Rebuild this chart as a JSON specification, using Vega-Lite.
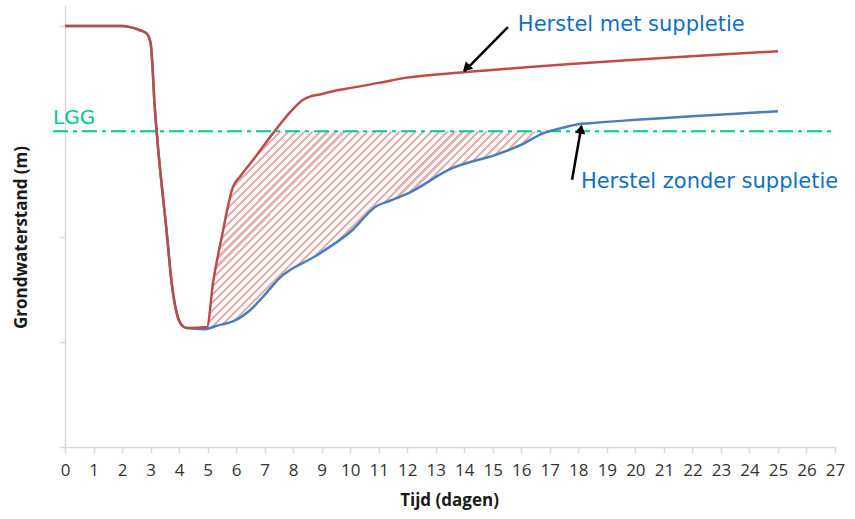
{
  "$schema": "https://vega.github.io/schema/vega-lite/v6.json",
  "autosize": "none",
  "width": 770,
  "height": 442,
  "padding": {"left": 65, "top": 5, "right": 20, "bottom": 72},
  "background": "white",
  "config": {"view": {"stroke": null}, "font": "Open Sans"},
  "datasets": {
    "curves": [
      {"day": 0, "level": 4.0, "series": "met"},
      {"day": 1, "level": 4.0, "series": "met"},
      {"day": 2, "level": 4.0, "series": "met"},
      {"day": 2.28, "level": 3.99, "series": "met"},
      {"day": 2.63, "level": 3.96, "series": "met"},
      {"day": 2.86, "level": 3.93, "series": "met"},
      {"day": 3.0, "level": 3.84, "series": "met"},
      {"day": 3.07, "level": 3.61, "series": "met"},
      {"day": 3.13, "level": 3.30, "series": "met"},
      {"day": 3.22, "level": 2.98, "series": "met"},
      {"day": 3.57, "level": 2.03, "series": "met"},
      {"day": 3.74, "level": 1.56, "series": "met"},
      {"day": 3.92, "level": 1.27, "series": "met"},
      {"day": 4.09, "level": 1.16, "series": "met"},
      {"day": 4.27, "level": 1.13, "series": "met"},
      {"day": 4.98, "level": 1.14, "series": "met"},
      {"day": 5.19, "level": 1.56, "series": "met"},
      {"day": 5.5, "level": 2.0, "series": "met"},
      {"day": 5.89, "level": 2.47, "series": "met"},
      {"day": 6.14, "level": 2.57, "series": "met"},
      {"day": 6.66, "level": 2.75, "series": "met"},
      {"day": 7.29, "level": 2.98, "series": "met"},
      {"day": 7.89, "level": 3.18, "series": "met"},
      {"day": 8.35, "level": 3.30, "series": "met"},
      {"day": 8.59, "level": 3.33, "series": "met"},
      {"day": 8.94, "level": 3.35, "series": "met"},
      {"day": 9.54, "level": 3.39, "series": "met"},
      {"day": 9.99, "level": 3.41, "series": "met"},
      {"day": 11, "level": 3.46, "series": "met"},
      {"day": 11.99, "level": 3.51, "series": "met"},
      {"day": 13.99, "level": 3.56, "series": "met"},
      {"day": 25, "level": 3.76, "series": "met"},
      {"day": 0, "level": 4.0, "series": "zonder"},
      {"day": 1, "level": 4.0, "series": "zonder"},
      {"day": 2, "level": 4.0, "series": "zonder"},
      {"day": 2.28, "level": 3.99, "series": "zonder"},
      {"day": 2.63, "level": 3.96, "series": "zonder"},
      {"day": 2.86, "level": 3.93, "series": "zonder"},
      {"day": 3.0, "level": 3.84, "series": "zonder"},
      {"day": 3.07, "level": 3.61, "series": "zonder"},
      {"day": 3.13, "level": 3.30, "series": "zonder"},
      {"day": 3.22, "level": 2.98, "series": "zonder"},
      {"day": 3.57, "level": 2.03, "series": "zonder"},
      {"day": 3.74, "level": 1.56, "series": "zonder"},
      {"day": 3.92, "level": 1.27, "series": "zonder"},
      {"day": 4.09, "level": 1.16, "series": "zonder"},
      {"day": 4.27, "level": 1.13, "series": "zonder"},
      {"day": 4.91, "level": 1.12, "series": "zonder"},
      {"day": 5.3, "level": 1.15, "series": "zonder"},
      {"day": 6.02, "level": 1.21, "series": "zonder"},
      {"day": 6.49, "level": 1.30, "series": "zonder"},
      {"day": 6.95, "level": 1.43, "series": "zonder"},
      {"day": 7.54, "level": 1.61, "series": "zonder"},
      {"day": 8.82, "level": 1.82, "series": "zonder"},
      {"day": 9.99, "level": 2.04, "series": "zonder"},
      {"day": 10.93, "level": 2.29, "series": "zonder"},
      {"day": 11.4, "level": 2.34, "series": "zonder"},
      {"day": 12.1, "level": 2.42, "series": "zonder"},
      {"day": 13.5, "level": 2.64, "series": "zonder"},
      {"day": 15.25, "level": 2.79, "series": "zonder"},
      {"day": 15.99, "level": 2.87, "series": "zonder"},
      {"day": 16.76, "level": 2.98, "series": "zonder"},
      {"day": 17.4, "level": 3.03, "series": "zonder"},
      {"day": 18.06, "level": 3.07, "series": "zonder"},
      {"day": 18.3, "level": 3.075, "series": "zonder"},
      {"day": 25, "level": 3.19, "series": "zonder"}
    ],
    "zone": [
      {"day": 5.0, "lo": 1.12, "level": 1.14},
      {"day": 5.19, "lo": 1.14, "level": 1.56},
      {"day": 5.5, "lo": 1.16, "level": 2.0},
      {"day": 5.89, "lo": 1.19, "level": 2.47},
      {"day": 6.14, "lo": 1.22, "level": 2.57},
      {"day": 6.49, "lo": 1.30, "level": 2.69},
      {"day": 6.95, "lo": 1.43, "level": 2.86},
      {"day": 7.29, "lo": 1.55, "level": 2.98},
      {"day": 7.54, "lo": 1.61, "level": 3.0},
      {"day": 8.82, "lo": 1.82, "level": 3.0},
      {"day": 9.99, "lo": 2.04, "level": 3.0},
      {"day": 10.93, "lo": 2.29, "level": 3.0},
      {"day": 11.4, "lo": 2.34, "level": 3.0},
      {"day": 12.1, "lo": 2.42, "level": 3.0},
      {"day": 13.5, "lo": 2.64, "level": 3.0},
      {"day": 15.25, "lo": 2.79, "level": 3.0},
      {"day": 15.99, "lo": 2.87, "level": 3.0},
      {"day": 16.76, "lo": 2.98, "level": 3.0},
      {"day": 16.85, "lo": 3.0, "level": 3.0}
    ],
    "lgg": [{"day": -0.42, "day2": 27, "level": 3.0}],
    "arrows": [
      {"day": 15.53, "level": 3.99, "day2": 14.0, "level2": 3.57, "name": "met"},
      {"day": 17.78, "level": 2.54, "day2": 18.11, "level2": 3.05, "name": "zonder"}
    ],
    "heads": [
      {"day": 14.07, "level": 3.6, "name": "met"},
      {"day": 18.09, "level": 3.02, "name": "zonder"}
    ],
    "labels": [
      {"day": 15.88, "level": 4.01, "text": "Herstel met suppletie", "kind": "note"},
      {"day": 18.09, "level": 2.52, "text": "Herstel zonder suppletie", "kind": "note"},
      {"day": -0.42, "level": 3.13, "text": "LGG", "kind": "lgg"}
    ]
  },
  "encoding": {
    "x": {"field": "day", "type": "quantitative", "scale": {"domain": [0, 27], "nice": false, "zero": false},
      "axis": {"values": [0,1,2,3,4,5,6,7,8,9,10,11,12,13,14,15,16,17,18,19,20,21,22,23,24,25,26,27], "tickCount": 40, "format": "d",
        "title": "Tijd (dagen)", "grid": false, "domainColor": "#d9d9d9", "domainWidth": 1.5, "tickColor": "#d9d9d9", "tickWidth": 1.5, "tickSize": 6,
        "labelFont": "Open Sans", "labelFontSize": 17, "labelColor": "#333333", "labelPadding": 9, "labelFlush": false, "labelOverlap": false, "labelBound": false,
        "titleFont": "Open Sans", "titleFontSize": 17, "titleFontWeight": "bold", "titleColor": "#1a1a1a",
        "titleX": 384, "titleY": 53, "titleBaseline": "middle", "titleAlign": "center"}},
    "y": {"field": "level", "type": "quantitative", "scale": {"domain": [0, 4.2], "nice": false, "zero": false},
      "axis": {"values": [0, 1, 2, 3, 4], "labels": false, "grid": false, "title": "Grondwaterstand (m)",
        "domainColor": "#d9d9d9", "domainWidth": 1.5, "tickColor": "#d9d9d9", "tickWidth": 1.5, "tickSize": 6,
        "titleFont": "Open Sans", "titleFontSize": 17, "titleFontWeight": "bold", "titleColor": "#1a1a1a",
        "titleX": -44, "titleY": 232, "titleAngle": -90, "titleBaseline": "middle", "titleAlign": "center"}}
  },
  "layer": [
    {
      "data": {"name": "zone"},
      "mark": {
        "type": "area",
        "interpolate": "monotone",
        "color": {
          "gradient": "linear",
          "x1": 0, "y1": 0, "x2": 1, "y2": 0.585,
          "stops": [
            {"offset": 0, "color": "#e6b1b1"}, {"offset": 0.007, "color": "#e6b1b1"}, {"offset": 0.007, "color": "#fff"}, {"offset": 0.0175, "color": "#fff"},
            {"offset": 0.0175, "color": "#e6b1b1"}, {"offset": 0.0245, "color": "#e6b1b1"}, {"offset": 0.0245, "color": "#fff"}, {"offset": 0.035, "color": "#fff"},
            {"offset": 0.035, "color": "#e6b1b1"}, {"offset": 0.042, "color": "#e6b1b1"}, {"offset": 0.042, "color": "#fff"}, {"offset": 0.0525, "color": "#fff"},
            {"offset": 0.0525, "color": "#e6b1b1"}, {"offset": 0.0595, "color": "#e6b1b1"}, {"offset": 0.0595, "color": "#fff"}, {"offset": 0.07, "color": "#fff"},
            {"offset": 0.07, "color": "#e6b1b1"}, {"offset": 0.077, "color": "#e6b1b1"}, {"offset": 0.077, "color": "#fff"}, {"offset": 0.0875, "color": "#fff"},
            {"offset": 0.0875, "color": "#e6b1b1"}, {"offset": 0.0945, "color": "#e6b1b1"}, {"offset": 0.0945, "color": "#fff"}, {"offset": 0.105, "color": "#fff"},
            {"offset": 0.105, "color": "#e6b1b1"}, {"offset": 0.112, "color": "#e6b1b1"}, {"offset": 0.112, "color": "#fff"}, {"offset": 0.1225, "color": "#fff"},
            {"offset": 0.1225, "color": "#e6b1b1"}, {"offset": 0.1295, "color": "#e6b1b1"}, {"offset": 0.1295, "color": "#fff"}, {"offset": 0.14, "color": "#fff"},
            {"offset": 0.14, "color": "#e6b1b1"}, {"offset": 0.147, "color": "#e6b1b1"}, {"offset": 0.147, "color": "#fff"}, {"offset": 0.1575, "color": "#fff"},
            {"offset": 0.1575, "color": "#e6b1b1"}, {"offset": 0.1645, "color": "#e6b1b1"}, {"offset": 0.1645, "color": "#fff"}, {"offset": 0.175, "color": "#fff"},
            {"offset": 0.175, "color": "#e6b1b1"}, {"offset": 0.182, "color": "#e6b1b1"}, {"offset": 0.182, "color": "#fff"}, {"offset": 0.1925, "color": "#fff"},
            {"offset": 0.1925, "color": "#e6b1b1"}, {"offset": 0.1995, "color": "#e6b1b1"}, {"offset": 0.1995, "color": "#fff"}, {"offset": 0.21, "color": "#fff"},
            {"offset": 0.21, "color": "#e6b1b1"}, {"offset": 0.217, "color": "#e6b1b1"}, {"offset": 0.217, "color": "#fff"}, {"offset": 0.2275, "color": "#fff"},
            {"offset": 0.2275, "color": "#e6b1b1"}, {"offset": 0.2345, "color": "#e6b1b1"}, {"offset": 0.2345, "color": "#fff"}, {"offset": 0.245, "color": "#fff"},
            {"offset": 0.245, "color": "#e6b1b1"}, {"offset": 0.252, "color": "#e6b1b1"}, {"offset": 0.252, "color": "#fff"}, {"offset": 0.2625, "color": "#fff"},
            {"offset": 0.2625, "color": "#e6b1b1"}, {"offset": 0.2695, "color": "#e6b1b1"}, {"offset": 0.2695, "color": "#fff"}, {"offset": 0.28, "color": "#fff"},
            {"offset": 0.28, "color": "#e6b1b1"}, {"offset": 0.287, "color": "#e6b1b1"}, {"offset": 0.287, "color": "#fff"}, {"offset": 0.2975, "color": "#fff"},
            {"offset": 0.2975, "color": "#e6b1b1"}, {"offset": 0.3045, "color": "#e6b1b1"}, {"offset": 0.3045, "color": "#fff"}, {"offset": 0.315, "color": "#fff"},
            {"offset": 0.315, "color": "#e6b1b1"}, {"offset": 0.322, "color": "#e6b1b1"}, {"offset": 0.322, "color": "#fff"}, {"offset": 0.3325, "color": "#fff"},
            {"offset": 0.3325, "color": "#e6b1b1"}, {"offset": 0.3395, "color": "#e6b1b1"}, {"offset": 0.3395, "color": "#fff"}, {"offset": 0.35, "color": "#fff"},
            {"offset": 0.35, "color": "#e6b1b1"}, {"offset": 0.357, "color": "#e6b1b1"}, {"offset": 0.357, "color": "#fff"}, {"offset": 0.3675, "color": "#fff"},
            {"offset": 0.3675, "color": "#e6b1b1"}, {"offset": 0.3745, "color": "#e6b1b1"}, {"offset": 0.3745, "color": "#fff"}, {"offset": 0.385, "color": "#fff"},
            {"offset": 0.385, "color": "#e6b1b1"}, {"offset": 0.392, "color": "#e6b1b1"}, {"offset": 0.392, "color": "#fff"}, {"offset": 0.4025, "color": "#fff"},
            {"offset": 0.4025, "color": "#e6b1b1"}, {"offset": 0.4095, "color": "#e6b1b1"}, {"offset": 0.4095, "color": "#fff"}, {"offset": 0.42, "color": "#fff"},
            {"offset": 0.42, "color": "#e6b1b1"}, {"offset": 0.427, "color": "#e6b1b1"}, {"offset": 0.427, "color": "#fff"}, {"offset": 0.4375, "color": "#fff"},
            {"offset": 0.4375, "color": "#e6b1b1"}, {"offset": 0.4445, "color": "#e6b1b1"}, {"offset": 0.4445, "color": "#fff"}, {"offset": 0.455, "color": "#fff"},
            {"offset": 0.455, "color": "#e6b1b1"}, {"offset": 0.462, "color": "#e6b1b1"}, {"offset": 0.462, "color": "#fff"}, {"offset": 0.4725, "color": "#fff"},
            {"offset": 0.4725, "color": "#e6b1b1"}, {"offset": 0.4795, "color": "#e6b1b1"}, {"offset": 0.4795, "color": "#fff"}, {"offset": 0.49, "color": "#fff"},
            {"offset": 0.49, "color": "#e6b1b1"}, {"offset": 0.497, "color": "#e6b1b1"}, {"offset": 0.497, "color": "#fff"}, {"offset": 0.5075, "color": "#fff"},
            {"offset": 0.5075, "color": "#e6b1b1"}, {"offset": 0.5145, "color": "#e6b1b1"}, {"offset": 0.5145, "color": "#fff"}, {"offset": 0.525, "color": "#fff"},
            {"offset": 0.525, "color": "#e6b1b1"}, {"offset": 0.532, "color": "#e6b1b1"}, {"offset": 0.532, "color": "#fff"}, {"offset": 0.5425, "color": "#fff"},
            {"offset": 0.5425, "color": "#e6b1b1"}, {"offset": 0.5495, "color": "#e6b1b1"}, {"offset": 0.5495, "color": "#fff"}, {"offset": 0.56, "color": "#fff"},
            {"offset": 0.56, "color": "#e6b1b1"}, {"offset": 0.567, "color": "#e6b1b1"}, {"offset": 0.567, "color": "#fff"}, {"offset": 0.5775, "color": "#fff"},
            {"offset": 0.5775, "color": "#e6b1b1"}, {"offset": 0.5845, "color": "#e6b1b1"}, {"offset": 0.5845, "color": "#fff"}, {"offset": 0.595, "color": "#fff"},
            {"offset": 0.595, "color": "#e6b1b1"}, {"offset": 0.602, "color": "#e6b1b1"}, {"offset": 0.602, "color": "#fff"}, {"offset": 0.6125, "color": "#fff"},
            {"offset": 0.6125, "color": "#e6b1b1"}, {"offset": 0.6195, "color": "#e6b1b1"}, {"offset": 0.6195, "color": "#fff"}, {"offset": 0.63, "color": "#fff"},
            {"offset": 0.63, "color": "#e6b1b1"}, {"offset": 0.637, "color": "#e6b1b1"}, {"offset": 0.637, "color": "#fff"}, {"offset": 0.6475, "color": "#fff"},
            {"offset": 0.6475, "color": "#e6b1b1"}, {"offset": 0.6545, "color": "#e6b1b1"}, {"offset": 0.6545, "color": "#fff"}, {"offset": 0.665, "color": "#fff"},
            {"offset": 0.665, "color": "#e6b1b1"}, {"offset": 0.672, "color": "#e6b1b1"}, {"offset": 0.672, "color": "#fff"}, {"offset": 0.6825, "color": "#fff"},
            {"offset": 0.6825, "color": "#e6b1b1"}, {"offset": 0.6895, "color": "#e6b1b1"}, {"offset": 0.6895, "color": "#fff"}, {"offset": 0.7, "color": "#fff"},
            {"offset": 0.7, "color": "#e6b1b1"}, {"offset": 0.707, "color": "#e6b1b1"}, {"offset": 0.707, "color": "#fff"}, {"offset": 0.7175, "color": "#fff"},
            {"offset": 0.7175, "color": "#e6b1b1"}, {"offset": 0.7245, "color": "#e6b1b1"}, {"offset": 0.7245, "color": "#fff"}, {"offset": 0.735, "color": "#fff"},
            {"offset": 0.735, "color": "#e6b1b1"}, {"offset": 0.742, "color": "#e6b1b1"}, {"offset": 0.742, "color": "#fff"}, {"offset": 0.7525, "color": "#fff"},
            {"offset": 0.7525, "color": "#e6b1b1"}, {"offset": 0.7595, "color": "#e6b1b1"}, {"offset": 0.7595, "color": "#fff"}, {"offset": 0.77, "color": "#fff"},
            {"offset": 0.77, "color": "#e6b1b1"}, {"offset": 0.777, "color": "#e6b1b1"}, {"offset": 0.777, "color": "#fff"}, {"offset": 0.7875, "color": "#fff"},
            {"offset": 0.7875, "color": "#e6b1b1"}, {"offset": 0.7945, "color": "#e6b1b1"}, {"offset": 0.7945, "color": "#fff"}, {"offset": 1, "color": "#fff"}
          ]
        }
      },
      "encoding": {"y2": {"field": "lo"}}
    },
    {
      "data": {"name": "lgg"},
      "mark": {"type": "rule", "color": "#00c98f", "strokeWidth": 2, "strokeDash": [15, 5, 4, 5]},
      "encoding": {"x2": {"field": "day2"}}
    },
    {
      "data": {"name": "curves"},
      "transform": [{"filter": "datum.series === 'zonder'"}],
      "mark": {"type": "line", "interpolate": "monotone", "color": "#4a7ebb", "strokeWidth": 2.5},
      "encoding": {}
    },
    {
      "data": {"name": "curves"},
      "transform": [{"filter": "datum.series === 'met'"}],
      "mark": {"type": "line", "interpolate": "monotone", "color": "#be4b48", "strokeWidth": 2.5},
      "encoding": {}
    },
    {
      "data": {"name": "arrows"},
      "mark": {"type": "rule", "color": "black", "strokeWidth": 2.5},
      "encoding": {"x2": {"field": "day2"}, "y2": {"field": "level2"}}
    },
    {
      "data": {"name": "heads"},
      "transform": [{"filter": "datum.name === 'met'"}],
      "mark": {"type": "point", "shape": "triangle-up", "filled": true, "color": "black", "opacity": 1, "size": 110, "angle": 225}
    },
    {
      "data": {"name": "heads"},
      "transform": [{"filter": "datum.name === 'zonder'"}],
      "mark": {"type": "point", "shape": "triangle-up", "filled": true, "color": "black", "opacity": 1, "size": 110, "angle": 10}
    },
    {
      "data": {"name": "labels"},
      "transform": [{"filter": "datum.kind === 'note'"}],
      "mark": {"type": "text", "align": "left", "baseline": "middle", "font": "DejaVu Sans", "fontSize": 21, "color": "#0f6fc6"},
      "encoding": {"text": {"field": "text"}}
    },
    {
      "data": {"name": "labels"},
      "transform": [{"filter": "datum.kind === 'lgg'"}],
      "mark": {"type": "text", "align": "left", "baseline": "middle", "font": "DejaVu Sans", "fontSize": 20, "color": "#00c98f"},
      "encoding": {"text": {"field": "text"}}
    }
  ]
}
